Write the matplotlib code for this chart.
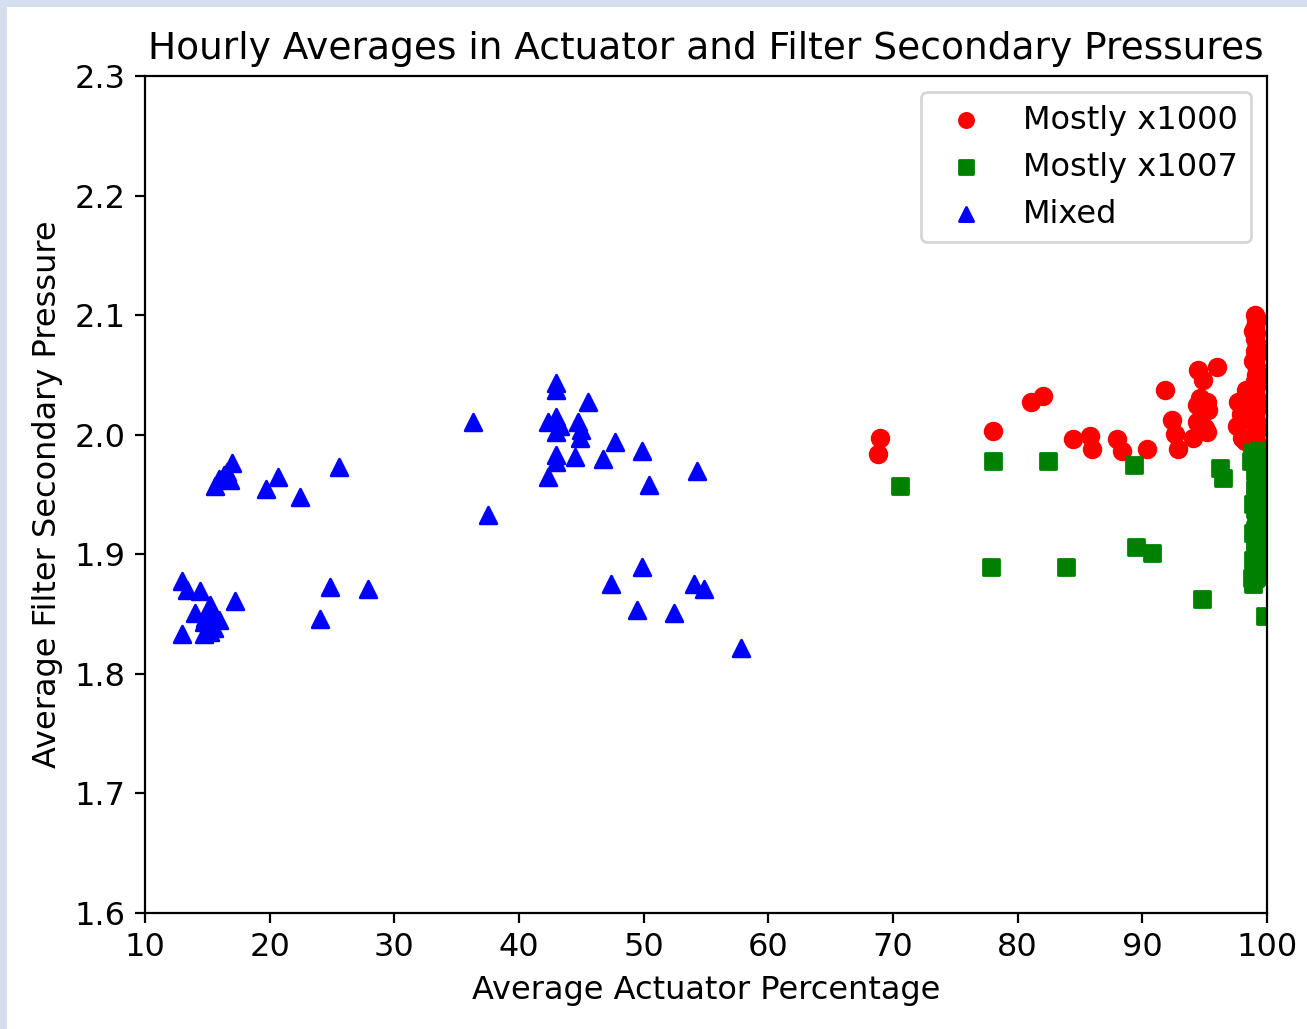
import matplotlib
matplotlib.use("Agg")
import matplotlib.pyplot as plt
from matplotlib.patches import Rectangle

# ---- data ----
x1000_x = [68.95, 68.8, 78.0, 81.1, 82.0, 84.4, 85.8, 86.0, 88.0, 88.4, 90.4,
           91.8, 92.4, 92.6, 92.9, 94.5, 96.0, 94.9, 94.6, 95.2, 94.4, 95.3,
           94.4, 95.0, 95.2, 94.1, 97.7, 97.6, 98.0, 97.9, 98.3, 98.2,
           99.0, 99.1, 99.0, 99.1, 99.0, 99.2, 99.0, 99.1, 99.0, 99.2, 99.1,
           99.0, 99.1, 99.0, 99.2, 99.0, 99.1, 99.0, 99.2, 99.1, 99.0, 99.1,
           99.2, 98.9, 99.2, 98.9, 99.2, 98.9, 99.2, 98.9, 99.2, 98.9, 99.2]
x1000_y = [1.997, 1.984, 2.003, 2.027, 2.032, 1.996, 1.999, 1.988, 1.996, 1.986, 1.988,
           2.037, 2.012, 2.001, 1.988, 2.054, 2.057, 2.046, 2.031, 2.027, 2.025, 2.021,
           2.011, 2.006, 2.002, 1.997, 2.027, 2.007, 1.997, 2.017, 2.037, 1.995,
           2.100, 2.095, 2.090, 2.085, 2.080, 2.075, 2.070, 2.065, 2.060, 2.055, 2.050,
           2.045, 2.040, 2.035, 2.030, 2.025, 2.020, 2.015, 2.010, 2.005, 2.000, 1.995,
           2.097, 2.087, 2.072, 2.062, 2.047, 2.037, 2.022, 2.012, 2.003, 1.998, 1.992]

x1007_x = [70.6, 78.0, 82.4, 89.3, 77.9, 83.9, 89.5, 90.8, 96.2, 96.5, 94.8, 99.8,
           98.8, 99.0, 99.1, 99.0, 99.2, 99.1, 99.0, 99.2, 99.1, 99.0, 99.2, 99.1,
           99.0, 99.2, 99.1, 99.0, 99.2, 98.9, 99.1, 99.0, 98.9,
           98.7, 99.3, 99.3, 99.3, 99.3, 99.3, 99.3, 99.3, 99.3, 98.9, 98.9, 98.8]
x1007_y = [1.957, 1.978, 1.978, 1.975, 1.889, 1.889, 1.906, 1.901, 1.972, 1.964, 1.863, 1.848,
           1.985, 1.980, 1.975, 1.970, 1.965, 1.960, 1.955, 1.950, 1.945, 1.938, 1.930, 1.925,
           1.920, 1.915, 1.910, 1.905, 1.900, 1.895, 1.888, 1.880, 1.875,
           1.978, 1.986, 1.972, 1.958, 1.943, 1.928, 1.912, 1.897, 1.882, 1.942, 1.918, 1.880]

mixed_x = [13.0, 13.4, 14.4, 17.2, 15.2, 14.0, 15.4, 15.9, 14.7, 13.0, 14.7, 15.2, 14.8, 15.5,
           15.6, 15.9, 16.3, 16.8, 17.0, 16.6, 19.7, 20.7, 22.4, 25.6, 24.0, 24.8, 27.9,
           36.3, 37.5, 42.3, 43.0, 43.0, 43.0, 43.3, 43.0, 45.5, 44.7, 45.0, 44.9,
           43.0, 43.0, 44.5, 46.7, 42.3, 47.7, 49.9, 50.4, 54.3,
           47.4, 49.9, 49.5, 52.4, 54.0, 54.8, 57.8]
mixed_y = [1.878, 1.870, 1.869, 1.861, 1.858, 1.851, 1.849, 1.845, 1.843, 1.833, 1.833, 1.835, 1.847, 1.838,
           1.957, 1.963, 1.966, 1.962, 1.976, 1.969, 1.955, 1.965, 1.948, 1.973, 1.846, 1.873, 1.871,
           2.011, 1.933, 2.011, 2.043, 2.037, 2.015, 2.007, 2.002, 2.027, 2.011, 2.004, 1.997,
           1.983, 1.977, 1.981, 1.980, 1.965, 1.994, 1.986, 1.958, 1.970,
           1.875, 1.889, 1.853, 1.851, 1.875, 1.871, 1.822]

plt.rcParams["font.size"] = 11.5
plt.rcParams["axes.titlesize"] = 13.5

W, H = 1307, 1029
fig = plt.figure(figsize=(W / 200, H / 200), dpi=200)
fig.patch.set_facecolor("white")
# screenshot frame (left and top strips)
fig.patches.append(Rectangle((0, 0), 7 / W, 1, transform=fig.transFigure,
                             facecolor="#d6dff0", edgecolor="none"))
fig.patches.append(Rectangle((0, 1 - 7 / H), 1, 7 / H, transform=fig.transFigure,
                             facecolor="#d6dff0", edgecolor="none"))

ax = fig.add_axes([145 / W, 1 - 913 / H, 1122 / W, 837 / H])
ax.scatter(x1000_x, x1000_y, c="red", marker="o", label="Mostly x1000")
ax.scatter(x1007_x, x1007_y, c="green", marker="s", label="Mostly x1007")
ax.scatter(mixed_x, mixed_y, c="blue", marker="^", label="Mixed")

ax.set_xlim(10, 100)
ax.set_ylim(1.6, 2.3)
ax.set_title("Hourly Averages in Actuator and Filter Secondary Pressures")
ax.set_xlabel("Average Actuator Percentage")
ax.set_ylabel("Average Filter Secondary Pressure")
ax.legend(loc="upper right", handletextpad=0.8, markerscale=0.85)

fig.savefig("out.png", dpi=200)
